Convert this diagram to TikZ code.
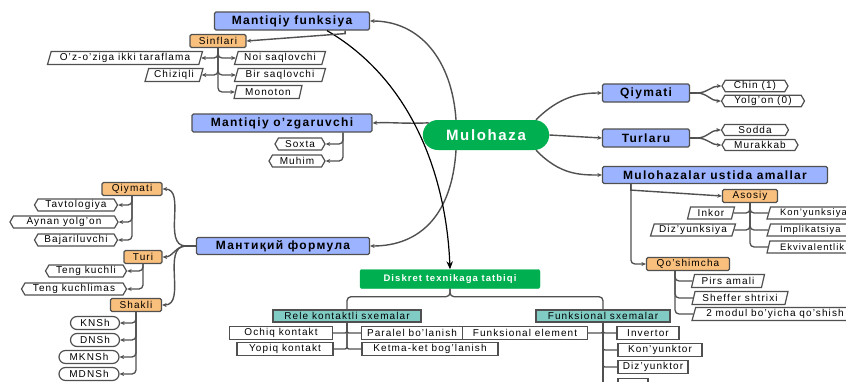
\documentclass[tikz,border=0pt]{standalone}
\usepackage{fontspec}
\setmainfont{Liberation Sans}[LetterSpace=11]
\usetikzlibrary{shapes.geometric,shapes.misc,shapes.symbols,arrows.meta}
\definecolor{topicblue}{HTML}{9CB4FF}
\definecolor{groupamber}{HTML}{F9BF7C}
\definecolor{rootgreen}{HTML}{00B050}
\definecolor{schemateal}{HTML}{80CCC4}
\definecolor{linegray}{HTML}{505050}
\tikzset{
  box/.style={draw=linegray, line width=1.2pt, inner sep=1pt, font=\fontsize{10}{11}\selectfont},
  topic/.style={box, fill=topicblue, rounded corners=1.5pt, minimum height=18, font=\bfseries\fontsize{12}{13}\selectfont},
  group/.style={box, fill=groupamber, rounded corners=1.5pt, minimum height=13},
  slant/.style={box, trapezium, trapezium left angle=72, trapezium right angle=108, trapezium stretches body, fill=white, minimum height=13},
  tag/.style={box, signal, signal to=east and west, signal pointer angle=120, fill=white, minimum height=12},
  pill/.style={box, rounded rectangle, fill=white, minimum height=13},
  plainbox/.style={box, fill=white, minimum height=13},
  schema/.style={box, fill=schemateal, minimum height=12},
  edgebox/.style={slant, minimum width=92, minimum height=12, font=\fontsize{9.4}{10}\selectfont, text width=66},
  link/.style={draw=linegray, line width=1.4pt, -{Stealth[length=4.5pt,width=4pt]}},
  twig/.style={draw=linegray, line width=1.3pt, rounded corners=4pt},
}
\begin{document}
\begin{tikzpicture}[x=1pt,y=-1pt]
\useasboundingbox (0,0) rectangle (846,381);
% centre
\node[rounded rectangle, fill=rootgreen, text=white, minimum width=133, minimum height=30, font=\bfseries\fontsize{15}{16}\selectfont] (mul) at (486,135) {Mulohaza};
% Mantiqiy funksiya
\node[topic, minimum width=155] (mf) at (292,21) {Mantiqiy funksiya};
\node[group, minimum width=56] (sinf) at (218,41) {Sinflari};
\node[slant, minimum width=155] (oz) at (125,58) {O'z-o'ziga ikki taraflama};
\node[slant, minimum width=91] (noi) at (280,58) {Noi saqlovchi};
\node[slant, minimum width=58] (chiz) at (174,75) {Chiziqli};
\node[slant, minimum width=91] (bir) at (280,75) {Bir saqlovchi};
\node[slant, minimum width=68] (mono) at (268,92) {Monoton};
% Mantiqiy o'zgaruvchi
\node[topic, minimum width=180] (mo) at (282,123) {Mantiqiy o'zgaruvchi};
\node[tag, minimum width=50] (sox) at (300,144) {Soxta};
\node[tag, minimum width=56] (muh) at (297,161) {Muhim};
% Mantiqiy formula
\node[topic, minimum width=173, minimum height=17] (mf2) at (283,246) {Мантиқий формула};
\node[group, minimum width=60] (qiy2) at (132,189) {Qiymati};
\node[tag, minimum width=83] (tav) at (76,205) {Tavtologiya};
\node[tag, minimum width=108] (ayn) at (64,222) {Aynan yolg'on};
\node[tag, minimum width=83] (baj) at (76,240) {Bajariluvchi};
\node[group, minimum width=38] (turi) at (143,257) {Turi};
\node[tag, minimum width=81] (teng1) at (86,271) {Teng kuchli};
\node[tag, minimum width=105] (teng2) at (74,289) {Teng kuchlimas};
\node[group, minimum width=51] (shak) at (136,305) {Shakli};
\node[pill, minimum width=51] (knsh) at (95,323) {KNSh};
\node[pill, minimum width=51] (dnsh) at (95,340) {DNSh};
\node[pill, minimum width=62] (mknsh) at (89,357) {MKNSh};
\node[pill, minimum width=62] (mdnsh) at (89,374) {MDNSh};
% right side
\node[topic, minimum width=87] (qiy) at (646,93) {Qiymati};
\node[tag, minimum width=66, minimum height=11] (chin) at (755,86) {Chin (1)};
\node[tag, minimum width=83, minimum height=11] (yol) at (763,101) {Yolg'on (0)};
\node[topic, minimum width=87] (tur) at (646,138) {Turlaru};
\node[tag, minimum width=67, minimum height=11] (sod) at (755,130) {Sodda};
\node[tag, minimum width=76, minimum height=11] (mur) at (760,145) {Murakkab};
\node[topic, minimum width=225, minimum height=17] (mua) at (715,175) {Mulohazalar ustida amallar};
\node[group, minimum width=55] (aso) at (750,196) {Asosiy};
\node[slant, minimum width=47, minimum height=12] (ink) at (711,213) {Inkor};
\node[edgebox] (kon) at (813,213) {Kon'yunksiya};
\node[slant, minimum width=85, minimum height=12] (diz) at (693,230) {Diz'yunksiya};
\node[edgebox] (imp) at (813,230) {Implikatsiya};
\node[edgebox] (ekv) at (813,247) {Ekvivalentlik};
\node[group, minimum width=83] (qos) at (688,264) {Qo'shimcha};
\node[slant, minimum width=73] (pirs) at (728,281) {Pirs amali};
\node[slant, minimum width=96] (shef) at (740,298) {Sheffer shtrixi};
\node[slant, minimum width=166] (modul) at (775,314) {2 modul bo'yicha qo'shish};
% Diskret texnikaga tatbiqi
\node[fill=rootgreen, draw=rootgreen, rounded corners=2pt, text=white, minimum width=180, minimum height=19, font=\bfseries\fontsize{9.5}{10}\selectfont] (dis) at (450,279) {Diskret texnikaga tatbiqi};
\node[schema, minimum width=148] (rele) at (347,316) {Rele kontaktli sxemalar};
\node[schema, minimum width=134] (funk) at (603,316) {Funksional sxemalar};
\node[plainbox, minimum width=103] (och) at (281,333) {Ochiq kontakt};
\node[plainbox, minimum width=96] (yop) at (285,349) {Yopiq kontakt};
\node[plainbox, minimum width=101] (par) at (412,333) {Paralel bo'lanish};
\node[plainbox, minimum width=136] (ket) at (430,349) {Ketma-ket bog'lanish};
\node[plainbox, minimum width=125] (fel) at (525,333) {Funksional element};
\node[plainbox, minimum width=62] (inv) at (648,333) {Invertor};
\node[plainbox, minimum width=84] (kyt) at (660,350) {Kon'yunktor};
\node[plainbox, minimum width=70] (dyt) at (653,367) {Diz'yunktor};
\node[plainbox, minimum width=30] (ext) at (633,385) {};

% from the centre
\draw[link] ([xshift=-30]mul.north) .. controls (452,60) and (420,21) .. (mf.east);
\draw[link] (mul.168) .. controls (405,124) and (390,122) .. (mo.east);
\draw[link] ([xshift=-30]mul.south) .. controls (452,215) and (420,246) .. (mf2.east);
\draw[link] ([xshift=50]mul.north) .. controls (560,96) and (580,93) .. (qiy.west);
\draw[link] (mul.east) -- (tur.west);
\draw[link] ([xshift=50]mul.south) .. controls (560,175) and (580,175) .. (mua.west);
\draw[line width=1.2pt, -{Stealth[length=8pt,width=6.5pt]}] ([xshift=35]mf.south) .. controls (420,85) and (447,190) .. (dis.north);

% Mantiqiy funksiya
\draw[link] ([xshift=-25]mf.south east) -- ++(0,3) -- (sinf.east);
\foreach \c in {oz,chiz}
  \draw[twig, -{Stealth[length=4.5pt,width=4pt]}] (sinf.south) |- (\c.east);
\foreach \c in {noi,bir,mono}
  \draw[twig, -{Stealth[length=4.5pt,width=4pt]}] (sinf.south) |- (\c.west);
% Mantiqiy o'zgaruvchi
\foreach \c in {sox,muh}
  \draw[twig, -{Stealth[length=4.5pt,width=4pt]}] ([xshift=61]mo.south) |- (\c.east);
% Mantiqiy formula
\draw[twig] (mf2.west) -- ++(-10,0) coordinate (fj);
\foreach \c in {qiy2,turi,shak}
  \draw[link] (fj) to[out=180,in=0] (\c.east);
\foreach \c in {tav,ayn,baj}
  \draw[twig, -{Stealth[length=4.5pt,width=4pt]}] (qiy2.south) |- (\c.east);
\foreach \c in {teng1,teng2}
  \draw[twig, -{Stealth[length=4.5pt,width=4pt]}] (turi.south) |- (\c.east);
\foreach \c in {knsh,dnsh,mknsh,mdnsh}
  \draw[twig, -{Stealth[length=4.5pt,width=4pt]}] (shak.south) |- (\c.east);
% Qiymati, Turlaru
\draw[twig] (qiy.east) -- ++(7,0) coordinate (qj);
\foreach \c in {chin,yol}
  \draw[link] (qj) to[out=0,in=180] (\c.west);
\draw[twig] (tur.east) -- ++(7,0) coordinate (tj);
\foreach \c in {sod,mur}
  \draw[link] (tj) to[out=0,in=180] (\c.west);
% Mulohazalar ustida amallar
\draw[link] ([xshift=29]mua.south west) -- ++(0,6) -- (aso.west);
\draw[twig, -{Stealth[length=4.5pt,width=4pt]}] ([xshift=29]mua.south west) |- (qos.west);
\foreach \c in {ink,diz}
  \draw[twig] (aso.south) |- (\c.east);
\foreach \c in {kon,imp,ekv}
  \draw[twig] (aso.south) |- (\c.west);
\foreach \c in {pirs,shef,modul}
  \draw[twig] ([xshift=-13]qos.south) |- (\c.west);
% Diskret texnikaga tatbiqi
\draw[twig] (dis.south) -- ++(0,8) -| (rele.north);
\draw[twig] (dis.south) -- ++(0,8) -| (funk.north);
\foreach \c in {och,yop}
  \draw[twig, rounded corners=2pt] (rele.south) |- (\c.east);
\foreach \c in {par,ket}
  \draw[twig, rounded corners=2pt] (rele.south) |- (\c.west);
\draw[twig, rounded corners=2pt] (funk.south) |- (fel.east);
\foreach \c in {inv,kyt,dyt,ext}
  \draw[twig, rounded corners=2pt] (funk.south) |- (\c.west);
\draw[twig] (funk.south) -- ++(0,70);
\end{tikzpicture}
\end{document}
